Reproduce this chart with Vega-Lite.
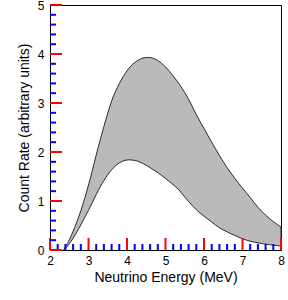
{
  "$schema": "https://vega.github.io/schema/vega-lite/v6.json",
  "width": 231,
  "height": 245,
  "autosize": "none",
  "padding": {"left": 50, "top": 5, "right": 7, "bottom": 50},
  "background": "white",
  "config": {
    "view": {"stroke": "black", "strokeWidth": 1},
    "font": "Liberation Sans",
    "axisX": {
      "domain": false, "ticks": false, "grid": false,
      "titleFont": "Liberation Sans", "titleFontSize": 14, "titleFontWeight": "normal", "titleColor": "black", "titlePadding": 4,
      "tickCount": 6, "format": "d", "labelOverlap": false, "labelColor": "black",
      "labelFont": "Liberation Sans", "labelFontSize": 12, "labelPadding": 5, "labelFlush": false
    },
    "axisY": {
      "domain": false, "ticks": false, "grid": false,
      "titleFont": "Liberation Sans", "titleFontSize": 14, "titleFontWeight": "normal", "titleColor": "black", "titlePadding": 6,
      "tickCount": 5, "format": "d", "labelOverlap": false, "labelColor": "black",
      "labelFont": "Liberation Sans", "labelFontSize": 12, "labelPadding": 6, "labelFlush": false
    }
  },
  "datasets": {
    "band": [
      {"x": 2.35, "lo": 0, "hi": 0},
      {"x": 2.4, "lo": 0.03, "hi": 0.06},
      {"x": 2.5, "lo": 0.12, "hi": 0.2},
      {"x": 2.6, "lo": 0.24, "hi": 0.38},
      {"x": 2.7, "lo": 0.37, "hi": 0.58},
      {"x": 2.8, "lo": 0.51, "hi": 0.79},
      {"x": 2.9, "lo": 0.66, "hi": 1.05},
      {"x": 3.0, "lo": 0.81, "hi": 1.32},
      {"x": 3.1, "lo": 0.97, "hi": 1.62},
      {"x": 3.2, "lo": 1.13, "hi": 1.94},
      {"x": 3.3, "lo": 1.29, "hi": 2.24},
      {"x": 3.4, "lo": 1.42, "hi": 2.52},
      {"x": 3.5, "lo": 1.54, "hi": 2.8},
      {"x": 3.6, "lo": 1.64, "hi": 3.05},
      {"x": 3.7, "lo": 1.72, "hi": 3.24},
      {"x": 3.8, "lo": 1.78, "hi": 3.4},
      {"x": 3.9, "lo": 1.82, "hi": 3.54},
      {"x": 4.0, "lo": 1.84, "hi": 3.66},
      {"x": 4.1, "lo": 1.84, "hi": 3.76},
      {"x": 4.2, "lo": 1.83, "hi": 3.83},
      {"x": 4.3, "lo": 1.81, "hi": 3.88},
      {"x": 4.4, "lo": 1.77, "hi": 3.92},
      {"x": 4.5, "lo": 1.73, "hi": 3.93},
      {"x": 4.6, "lo": 1.68, "hi": 3.93},
      {"x": 4.7, "lo": 1.63, "hi": 3.91},
      {"x": 4.8, "lo": 1.58, "hi": 3.87},
      {"x": 4.9, "lo": 1.52, "hi": 3.81},
      {"x": 5.0, "lo": 1.46, "hi": 3.74},
      {"x": 5.1, "lo": 1.4, "hi": 3.65},
      {"x": 5.2, "lo": 1.33, "hi": 3.55},
      {"x": 5.3, "lo": 1.27, "hi": 3.45},
      {"x": 5.4, "lo": 1.18, "hi": 3.34},
      {"x": 5.5, "lo": 1.08, "hi": 3.21},
      {"x": 5.6, "lo": 0.99, "hi": 3.08},
      {"x": 5.7, "lo": 0.9, "hi": 2.92},
      {"x": 5.8, "lo": 0.82, "hi": 2.76},
      {"x": 5.9, "lo": 0.75, "hi": 2.62},
      {"x": 6.0, "lo": 0.69, "hi": 2.48},
      {"x": 6.1, "lo": 0.63, "hi": 2.34},
      {"x": 6.2, "lo": 0.57, "hi": 2.2},
      {"x": 6.3, "lo": 0.51, "hi": 2.06},
      {"x": 6.4, "lo": 0.45, "hi": 1.93},
      {"x": 6.5, "lo": 0.41, "hi": 1.8},
      {"x": 6.6, "lo": 0.37, "hi": 1.68},
      {"x": 6.7, "lo": 0.33, "hi": 1.57},
      {"x": 6.8, "lo": 0.3, "hi": 1.46},
      {"x": 6.9, "lo": 0.26, "hi": 1.36},
      {"x": 7.0, "lo": 0.23, "hi": 1.26},
      {"x": 7.1, "lo": 0.2, "hi": 1.17},
      {"x": 7.2, "lo": 0.18, "hi": 1.07},
      {"x": 7.3, "lo": 0.16, "hi": 0.97},
      {"x": 7.4, "lo": 0.15, "hi": 0.87},
      {"x": 7.5, "lo": 0.13, "hi": 0.79},
      {"x": 7.6, "lo": 0.12, "hi": 0.71},
      {"x": 7.7, "lo": 0.11, "hi": 0.64},
      {"x": 7.8, "lo": 0.1, "hi": 0.58},
      {"x": 7.9, "lo": 0.09, "hi": 0.52},
      {"x": 8.0, "lo": 0.08, "hi": 0.47}
    ],
    "xmajor": [{"t": 2}, {"t": 3}, {"t": 4}, {"t": 5}, {"t": 6}, {"t": 7}, {"t": 8}],
    "xminor": [{"t": 2.2}, {"t": 2.4}, {"t": 2.6}, {"t": 2.8}, {"t": 3.2}, {"t": 3.4}, {"t": 3.6}, {"t": 3.8}, {"t": 4.2}, {"t": 4.4}, {"t": 4.6}, {"t": 4.8}, {"t": 5.2}, {"t": 5.4}, {"t": 5.6}, {"t": 5.8}, {"t": 6.2}, {"t": 6.4}, {"t": 6.6}, {"t": 6.8}, {"t": 7.2}, {"t": 7.4}, {"t": 7.6}, {"t": 7.8}],
    "ymajor": [{"t": 0}, {"t": 1}, {"t": 2}, {"t": 3}, {"t": 4}, {"t": 5}],
    "yminor": [{"t": 0.2}, {"t": 0.4}, {"t": 0.6}, {"t": 0.8}, {"t": 1.2}, {"t": 1.4}, {"t": 1.6}, {"t": 1.8}, {"t": 2.2}, {"t": 2.4}, {"t": 2.6}, {"t": 2.8}, {"t": 3.2}, {"t": 3.4}, {"t": 3.6}, {"t": 3.8}, {"t": 4.2}, {"t": 4.4}, {"t": 4.6}, {"t": 4.8}]
  },
  "layer": [
    {
      "data": {"name": "band"},
      "mark": {"type": "area", "interpolate": "basis", "fill": "#bababa", "stroke": "#2a2a2a", "strokeWidth": 1},
      "encoding": {
        "x": {"field": "x", "type": "quantitative", "title": "Neutrino Energy (MeV)", "scale": {"domain": [2, 8], "nice": false, "zero": false}},
        "y": {"field": "hi", "type": "quantitative", "title": "Count Rate (arbitrary units)", "scale": {"domain": [0, 5], "nice": false}},
        "y2": {"field": "lo"}
      }
    },
    {
      "data": {"name": "xmajor"},
      "mark": {"type": "rule", "color": "red", "strokeWidth": 2, "y2Offset": -12},
      "encoding": {
        "x": {"field": "t", "type": "quantitative", "title": "Neutrino Energy (MeV)"},
        "y": {"datum": 0, "type": "quantitative", "title": "Count Rate (arbitrary units)"},
        "y2": {"datum": 0}
      }
    },
    {
      "data": {"name": "xminor"},
      "mark": {"type": "rule", "color": "blue", "strokeWidth": 2, "y2Offset": -6},
      "encoding": {
        "x": {"field": "t", "type": "quantitative", "title": "Neutrino Energy (MeV)"},
        "y": {"datum": 0, "type": "quantitative", "title": "Count Rate (arbitrary units)"},
        "y2": {"datum": 0}
      }
    },
    {
      "data": {"name": "ymajor"},
      "mark": {"type": "rule", "color": "red", "strokeWidth": 2, "x2Offset": 12},
      "encoding": {
        "y": {"field": "t", "type": "quantitative", "title": "Count Rate (arbitrary units)"},
        "x": {"datum": 2, "type": "quantitative", "title": "Neutrino Energy (MeV)"},
        "x2": {"datum": 2}
      }
    },
    {
      "data": {"name": "yminor"},
      "mark": {"type": "rule", "color": "blue", "strokeWidth": 2, "x2Offset": 6},
      "encoding": {
        "y": {"field": "t", "type": "quantitative", "title": "Count Rate (arbitrary units)"},
        "x": {"datum": 2, "type": "quantitative", "title": "Neutrino Energy (MeV)"},
        "x2": {"datum": 2}
      }
    }
  ]
}
